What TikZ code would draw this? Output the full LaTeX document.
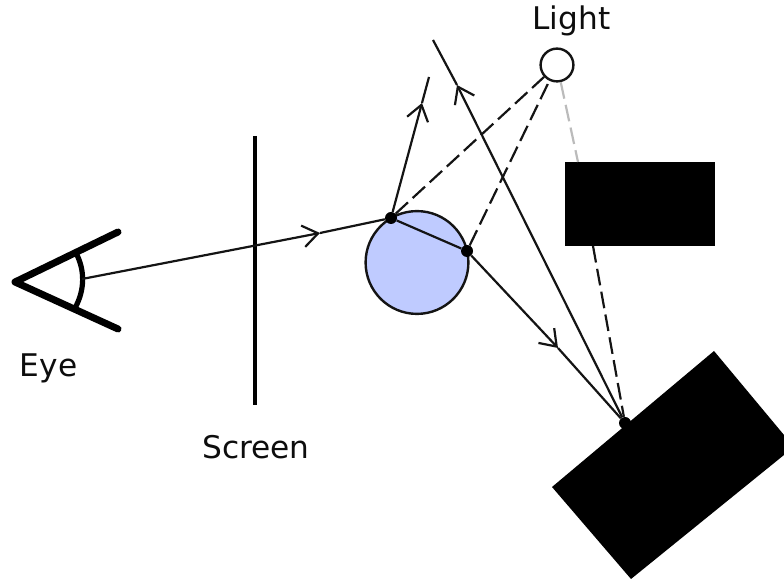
\documentclass[tikz,border=0pt]{standalone}
\usepackage{fontspec}
\setmainfont{DejaVu Sans}
\usetikzlibrary{arrows.meta}
\definecolor{spherefill}{HTML}{BFCBFF}
\definecolor{linedark}{HTML}{141414}
\definecolor{shadowgray}{HTML}{BBBBBB}
\tikzset{
  ray/.style={draw=linedark, line width=0.55mm},
  rayarrow/.style={ray, -{Straight Barb[length=3.8mm, width=5.4mm, line width=0.55mm]}},
  shadowray/.style={ray, dash pattern=on 4.2mm off 1.6mm},
  hitdot/.style={circle, fill=black, inner sep=0pt, minimum size=3mm},
  blackbox/.style={rectangle, fill=black, inner sep=0pt},
  label/.style={font=\fontsize{22.2}{26}\selectfont, text=black!95, inner sep=0pt},
  eyeline/.style={draw=black, line width=1.75mm, line cap=round, line join=round}
}
\begin{document}
\begin{tikzpicture}[x=0.25mm, y=-0.25mm]
  \useasboundingbox (0,0) rectangle (784,580);

  % eye and screen
  \draw[eyeline] (118,232) -- (15,282) -- (118,329);
  \draw[draw=black, line width=1.3mm] (76,253) .. controls (85,270) and (85,290) .. (75,308);
  \draw[draw=black, line width=1.15mm] (255,136) -- (255,405);
  \node[label] (eye) at (48.5,368) {Eye};
  \node[label] (screen) at (256,447.5) {Screen};

  % objects
  \node[draw=linedark, line width=0.6mm, circle, fill=spherefill, inner sep=0pt, minimum size=25.7mm] (sphere) at (417,262.5) {};
  \node[blackbox, minimum width=37.5mm, minimum height=21mm] (boxtop) at (640,204) {};
  \fill[black] (714,351) -- (784,435) -- (784,455) -- (631,579) -- (552,487) -- cycle;
  \node[draw=linedark, line width=0.6mm, circle, fill=white, inner sep=0pt, minimum size=8.2mm] (light) at (557,65) {};
  \node[label] (lightlabel) at (571.5,21) {Light};

  % hit points
  \node[hitdot] (hita) at (391,218) {};
  \node[hitdot] (hitb) at (467,251) {};
  \node[hitdot] (hitc) at (625,423) {};

  \coordinate (eyeray) at (82,279);
  \coordinate (tipa) at (320,233);
  \coordinate (tipb) at (422,103);
  \coordinate (enda) at (429,77);
  \coordinate (tipc) at (558,348);
  \coordinate (tipd) at (457,85);
  \coordinate (endb) at (433,40);
  \coordinate (shadowtop) at (578,162);
  \coordinate (shadowlow) at (593,246);

  % rays
  \draw[rayarrow] (eyeray) -- (tipa);
  \draw[ray] (tipa) -- (hita);
  \draw[rayarrow] (hita) -- (tipb);
  \draw[ray] (tipb) -- (enda);
  \draw[ray] (hita) -- (hitb);
  \draw[rayarrow] (hitb) -- (tipc);
  \draw[ray] (tipc) -- (hitc);
  \draw[rayarrow] (hitc) -- (tipd);
  \draw[ray] (tipd) -- (endb);

  % shadow rays
  \draw[shadowray] (hita) -- (light);
  \draw[shadowray] (hitb) -- (light);
  \draw[shadowray, draw=shadowgray] (light) -- (shadowtop);
  \draw[shadowray] (shadowlow) -- (hitc);
\end{tikzpicture}
\end{document}
